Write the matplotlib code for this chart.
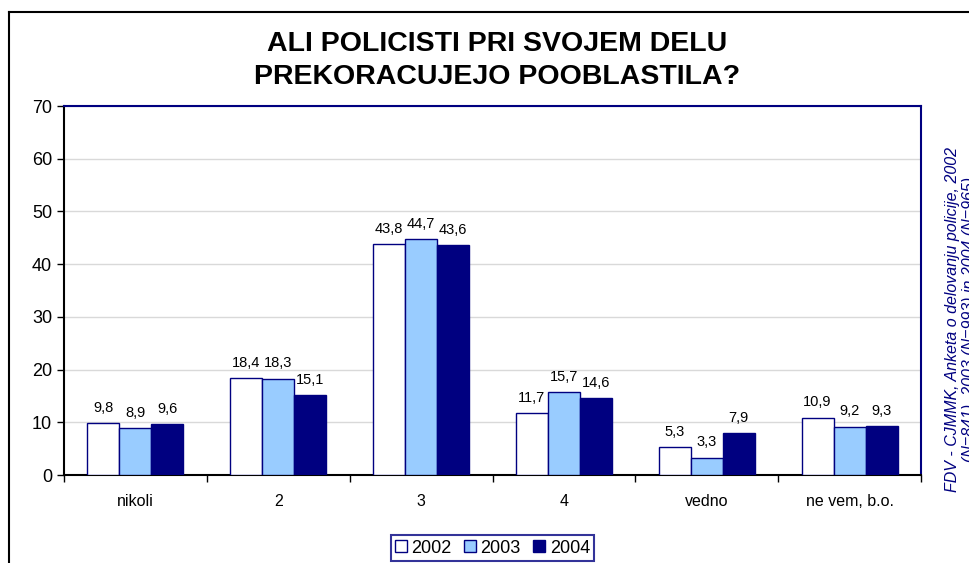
import numpy as np
import matplotlib
matplotlib.use('Agg')
import matplotlib.pyplot as plt
from matplotlib.lines import Line2D

plt.rcParams['font.family'] = ['Liberation Sans', 'DejaVu Sans']

categories = ['nikoli', '2', '3', '4', 'vedno', 'ne vem, b.o.']
years = ['2002', '2003', '2004']
v2002 = [9.8, 18.4, 43.8, 11.7, 5.3, 10.9]
v2003 = [8.9, 18.3, 44.7, 15.7, 3.3, 9.2]
v2004 = [9.6, 15.1, 43.6, 14.6, 7.9, 9.3]
colors = ['#FFFFFF', '#99CCFF', '#000080']
NAVY = '#000080'

fig = plt.figure(figsize=(9.7, 5.63), dpi=100)
ax = fig.add_axes([0.066, 0.1563, 0.8835, 0.6554])

x = np.arange(len(categories))
w = 0.224
for i, (vals, lab) in enumerate(zip([v2002, v2003, v2004], years)):
    pos = x + (i - 1) * w
    ax.bar(pos, vals, width=w, color=colors[i], edgecolor=NAVY, linewidth=1.0,
           label=lab, zorder=3)
    for p, v in zip(pos, vals):
        ax.text(p, v + 1.6, f'{v:.1f}'.replace('.', ','), ha='center', va='bottom',
                fontsize=10.5)

ax.set_xlim(-0.5, len(categories) - 0.5)
ax.set_ylim(0, 70)
ax.set_yticks(range(0, 71, 10))
ax.tick_params(axis='y', labelsize=13, direction='out', length=5, width=1)
ax.set_xticks(x)
ax.set_xticklabels(categories, fontsize=11.5)
ax.tick_params(axis='x', which='major', length=0, pad=14)
ax.set_xticks(np.arange(-0.5, len(categories)), minor=True)
ax.tick_params(axis='x', which='minor', length=5, width=1, direction='out')
ax.grid(axis='y', color='#d9d9d9', lw=1, zorder=0)
ax.set_axisbelow(True)
for s in ['left', 'bottom']:
    ax.spines[s].set_color('black')
    ax.spines[s].set_linewidth(1.5)
for s in ['top', 'right']:
    ax.spines[s].set_color(NAVY)
    ax.spines[s].set_linewidth(1.5)

fig.text(0.512, 0.893, 'ALI POLICISTI PRI SVOJEM DELU\nPREKORACUJEJO POOBLASTILA?',
         ha='center', va='center', fontsize=20.5, fontweight='bold', linespacing=1.35)

leg = ax.legend(loc='upper center', bbox_to_anchor=(0.5, -0.163), ncol=3, fontsize=13,
                frameon=True, fancybox=False, edgecolor=NAVY, handlelength=0.65,
                handleheight=0.65, handletextpad=0.25, columnspacing=0.7,
                borderpad=0.25, borderaxespad=0)
leg.get_frame().set_linewidth(1.5)

fig.text(0.9905, 0.433,
         'FDV - CJMMK, Anketa o delovanju policije, 2002\n(N=841), 2003 (N=993) in 2004 (N=965)',
         rotation=90, ha='center', va='center', fontsize=11.5, style='italic',
         color=NAVY, linespacing=1.15)

# outer chart border (cut at right and bottom)
fig.add_artist(Line2D([9 / 970, 9 / 970], [0, 1 - 12 / 563], color='black', lw=1.5))
fig.add_artist(Line2D([9 / 970, 1], [1 - 12 / 563, 1 - 12 / 563], color='black', lw=1.5))

fig.savefig('out.png', dpi=100)
